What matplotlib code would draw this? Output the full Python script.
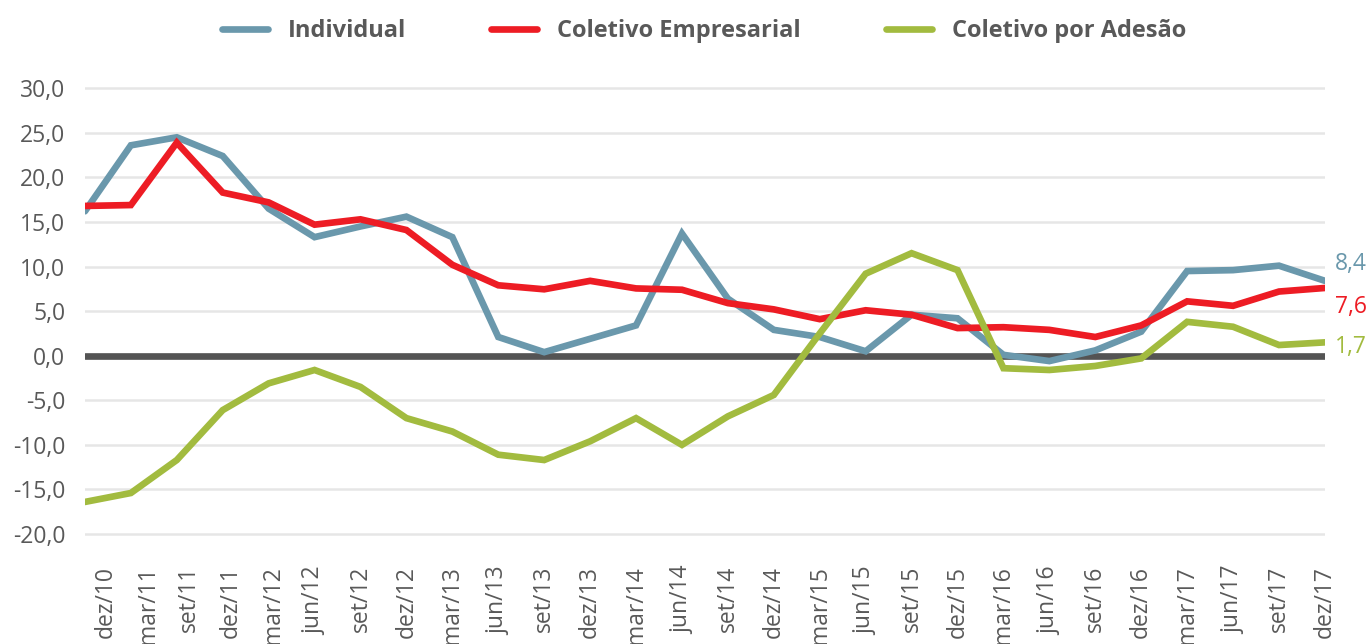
import matplotlib.pyplot as plt
import matplotlib.transforms as mtransforms
from matplotlib.ticker import FuncFormatter

plt.rcParams['font.family'] = ['Open Sans', 'DejaVu Sans']

# rótulos do eixo x (trimestres)
meses = ['dez/10', 'mar/11', 'set/11', 'dez/11', 'mar/12', 'jun/12', 'set/12',
         'dez/12', 'mar/13', 'jun/13', 'set/13', 'dez/13', 'mar/14', 'jun/14',
         'set/14', 'dez/14', 'mar/15', 'jun/15', 'set/15', 'dez/15', 'mar/16',
         'jun/16', 'set/16', 'dez/16', 'mar/17', 'jun/17', 'set/17', 'dez/17']

individual = [16.2, 23.6, 24.5, 22.4, 16.5, 13.3, 14.5, 15.6, 13.3, 2.1,
              0.4, 1.9, 3.4, 13.7, 6.4, 2.9, 2.1, 0.5, 4.6, 4.2,
              0.1, -0.6, 0.6, 2.7, 9.5, 9.6, 10.1, 8.4]
empresarial = [16.8, 16.9, 23.9, 18.3, 17.2, 14.7, 15.3, 14.1, 10.2, 7.9,
               7.45, 8.4, 7.55, 7.4, 5.9, 5.2, 4.1, 5.1, 4.6, 3.1,
               3.2, 2.9, 2.1, 3.4, 6.1, 5.6, 7.2, 7.6]
adesao = [-16.4, -15.4, -11.7, -6.1, -3.1, -1.6, -3.5, -7.0, -8.5, -11.1,
          -11.7, -9.6, -7.0, -10.0, -6.8, -4.4, 2.5, 9.2, 11.5, 9.6,
          -1.4, -1.6, -1.15, -0.3, 3.8, 3.25, 1.2, 1.5]

nomes = ['Individual', 'Coletivo Empresarial', 'Coletivo por Adesão']
cores = ['#6a98ac', '#ed1c24', '#a2bb3f']
rotulos_finais = ['8,4', '7,6', '1,7']
desloc_rotulos = [12, -14, -3.5]  # pontos, para não sobrepor

texto_cor = '#595959'

fig = plt.figure(figsize=(13.7, 6.44), dpi=100)
ax = fig.add_axes([0.0620, 0.1666, 0.9051, 0.7005])

x = list(range(len(meses)))

# linha do zero
ax.axhline(0, color='#545454', lw=4.8, solid_capstyle='round', zorder=2)

series = [individual, empresarial, adesao]
for serie, nome, cor, rot, dy in zip(series, nomes, cores, rotulos_finais, desloc_rotulos):
    ax.plot(x, serie, color=cor, lw=4.8, label=nome, zorder=3,
            solid_capstyle='round', solid_joinstyle='miter')
    ax.annotate(rot, xy=(x[-1], serie[-1]), xytext=(7, dy),
                textcoords='offset points', color=cor, fontsize=16.5,
                va='center', ha='left', annotation_clip=False)

ax.set_xlim(0, len(meses) - 1)
ax.set_ylim(-20.3, 30.3)
ax.set_yticks(range(-20, 31, 5))
ax.yaxis.set_major_formatter(FuncFormatter(lambda v, p: f'{v:.1f}'.replace('.', ',')))
ax.set_xticks(x)
ax.set_xticklabels(meses, rotation=90, va='top', ha='center')

ax.grid(axis='y', color='#e6e6e6', lw=1.8, zorder=0)
ax.set_axisbelow(True)
for s in ax.spines.values():
    s.set_visible(False)
ax.tick_params(axis='both', length=0, labelsize=16.5, colors=texto_cor)
ax.tick_params(axis='y', pad=14)
ax.tick_params(axis='x', pad=21)

# os primeiros rótulos ficam um pouco à direita no original
# (depois do tick_params, que refaz as transformações)
for i, lab in enumerate(ax.get_xticklabels()[:5]):
    dx = (15 - 3 * i) / 72
    lab.set_transform(lab.get_transform() +
                      mtransforms.ScaledTranslation(dx, 0, fig.dpi_scale_trans))

leg = fig.legend(loc='center', bbox_to_anchor=(0.514, 0.952), ncol=3,
                 frameon=False, handlelength=1.95, handletextpad=0.85,
                 columnspacing=3.6, prop={'weight': 'bold', 'size': 17})
for t in leg.get_texts():
    t.set_color(texto_cor)
for h in leg.get_lines():
    h.set_solid_capstyle('round')

fig.savefig('out.png', dpi=100)
